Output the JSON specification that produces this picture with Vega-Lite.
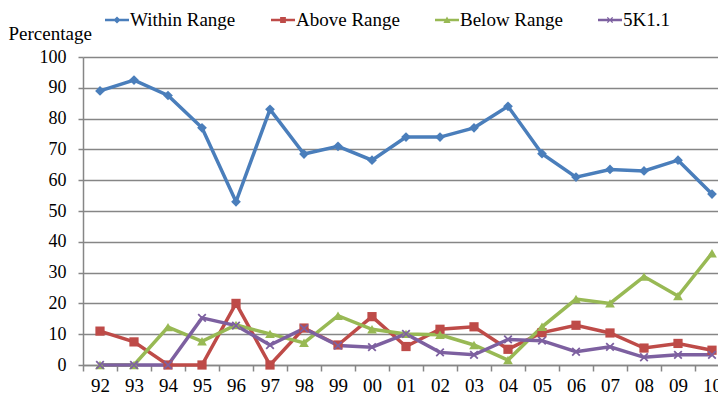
{
  "$schema": "https://vega.github.io/schema/vega-lite/v6.json",
  "width": 635,
  "height": 308,
  "autosize": {"type": "none"},
  "padding": {"left": 83, "top": 57, "right": 0, "bottom": 32},
  "background": "white",
  "config": {
    "view": {"stroke": null},
    "font": "Liberation Serif",
    "axis": {"labelFont": "Liberation Serif", "titleFont": "Liberation Serif", "labelColor": "#000", "titleColor": "#000"},
    "legend": {"labelFont": "Liberation Serif", "labelColor": "#000"}
  },
  "data": {
    "values": [
      {"year": "92", "series": "Within Range", "value": 89},
      {"year": "93", "series": "Within Range", "value": 92.5},
      {"year": "94", "series": "Within Range", "value": 87.5},
      {"year": "95", "series": "Within Range", "value": 77},
      {"year": "96", "series": "Within Range", "value": 53},
      {"year": "97", "series": "Within Range", "value": 83},
      {"year": "98", "series": "Within Range", "value": 68.5},
      {"year": "99", "series": "Within Range", "value": 71},
      {"year": "00", "series": "Within Range", "value": 66.5},
      {"year": "01", "series": "Within Range", "value": 74},
      {"year": "02", "series": "Within Range", "value": 74},
      {"year": "03", "series": "Within Range", "value": 77},
      {"year": "04", "series": "Within Range", "value": 84},
      {"year": "05", "series": "Within Range", "value": 68.6},
      {"year": "06", "series": "Within Range", "value": 61},
      {"year": "07", "series": "Within Range", "value": 63.5},
      {"year": "08", "series": "Within Range", "value": 63},
      {"year": "09", "series": "Within Range", "value": 66.5},
      {"year": "10", "series": "Within Range", "value": 55.5},
      {"year": "92", "series": "Above Range", "value": 11},
      {"year": "93", "series": "Above Range", "value": 7.5},
      {"year": "94", "series": "Above Range", "value": 0},
      {"year": "95", "series": "Above Range", "value": 0},
      {"year": "96", "series": "Above Range", "value": 20},
      {"year": "97", "series": "Above Range", "value": 0},
      {"year": "98", "series": "Above Range", "value": 12},
      {"year": "99", "series": "Above Range", "value": 6.5},
      {"year": "00", "series": "Above Range", "value": 15.7},
      {"year": "01", "series": "Above Range", "value": 6},
      {"year": "02", "series": "Above Range", "value": 11.6},
      {"year": "03", "series": "Above Range", "value": 12.4},
      {"year": "04", "series": "Above Range", "value": 5.1},
      {"year": "05", "series": "Above Range", "value": 10.5},
      {"year": "06", "series": "Above Range", "value": 12.9},
      {"year": "07", "series": "Above Range", "value": 10.4},
      {"year": "08", "series": "Above Range", "value": 5.5},
      {"year": "09", "series": "Above Range", "value": 7},
      {"year": "10", "series": "Above Range", "value": 4.8},
      {"year": "92", "series": "Below Range", "value": 0},
      {"year": "93", "series": "Below Range", "value": 0},
      {"year": "94", "series": "Below Range", "value": 12.3},
      {"year": "95", "series": "Below Range", "value": 7.7},
      {"year": "96", "series": "Below Range", "value": 13},
      {"year": "97", "series": "Below Range", "value": 10.1},
      {"year": "98", "series": "Below Range", "value": 7.2},
      {"year": "99", "series": "Below Range", "value": 16},
      {"year": "00", "series": "Below Range", "value": 11.6},
      {"year": "01", "series": "Below Range", "value": 10.1},
      {"year": "02", "series": "Below Range", "value": 9.8},
      {"year": "03", "series": "Below Range", "value": 6.5},
      {"year": "04", "series": "Below Range", "value": 1.6},
      {"year": "05", "series": "Below Range", "value": 12.4},
      {"year": "06", "series": "Below Range", "value": 21.4},
      {"year": "07", "series": "Below Range", "value": 20},
      {"year": "08", "series": "Below Range", "value": 28.7},
      {"year": "09", "series": "Below Range", "value": 22.4},
      {"year": "10", "series": "Below Range", "value": 36.3},
      {"year": "92", "series": "5K1.1", "value": 0},
      {"year": "93", "series": "5K1.1", "value": 0},
      {"year": "94", "series": "5K1.1", "value": 0},
      {"year": "95", "series": "5K1.1", "value": 15.3},
      {"year": "96", "series": "5K1.1", "value": 12.8},
      {"year": "97", "series": "5K1.1", "value": 6.5},
      {"year": "98", "series": "5K1.1", "value": 11.9},
      {"year": "99", "series": "5K1.1", "value": 6.3},
      {"year": "00", "series": "5K1.1", "value": 5.8},
      {"year": "01", "series": "5K1.1", "value": 10.1},
      {"year": "02", "series": "5K1.1", "value": 4.1},
      {"year": "03", "series": "5K1.1", "value": 3.3},
      {"year": "04", "series": "5K1.1", "value": 8.3},
      {"year": "05", "series": "5K1.1", "value": 7.9},
      {"year": "06", "series": "5K1.1", "value": 4.3},
      {"year": "07", "series": "5K1.1", "value": 5.9},
      {"year": "08", "series": "5K1.1", "value": 2.5},
      {"year": "09", "series": "5K1.1", "value": 3.3},
      {"year": "10", "series": "5K1.1", "value": 3.3}
    ]
  },
  "encoding": {
    "x": {
      "field": "year",
      "type": "ordinal",
      "sort": null,
      "bandPosition": 0.5,
      "scale": {"type": "band", "range": [0, 646], "paddingInner": 0, "paddingOuter": 0},
      "axis": {
        "title": null,
        "labelAngle": 0,
        "labelFontSize": 19,
        "labelPadding": 5,
        "tickBand": "extent",
        "tickSize": 6,
        "tickColor": "#868686",
        "tickWidth": 1.5,
        "domainColor": "#868686",
        "domainWidth": 1.5,
        "grid": false
      }
    },
    "y": {
      "field": "value",
      "type": "quantitative",
      "scale": {"domain": [0, 100], "nice": false},
      "axis": {
        "values": [0, 10, 20, 30, 40, 50, 60, 70, 80, 90, 100],
        "title": "Percentage",
        "titleAngle": 0,
        "titleAlign": "left",
        "titleBaseline": "alphabetic",
        "titleX": -75,
        "titleY": -18,
        "titleFontSize": 19,
        "titleFontWeight": "normal",
        "labelFontSize": 18,
        "labelPadding": 12,
        "tickSize": 5,
        "tickColor": "#868686",
        "tickWidth": 1.5,
        "domainColor": "#868686",
        "domainWidth": 1.5,
        "grid": true,
        "gridColor": "#868686",
        "gridWidth": 1.5
      }
    },
    "color": {
      "field": "series",
      "type": "nominal",
      "scale": {
        "domain": ["Within Range", "Above Range", "Below Range", "5K1.1"],
        "range": ["#4A7EBB", "#BE4B48", "#98B954", "#7D60A0"]
      },
      "legend": {
        "title": null,
        "orient": "none",
        "direction": "horizontal",
        "legendX": 22,
        "legendY": -49,
        "padding": 0,
        "labelFontSize": 19,
        "labelOffset": 1,
        "columnPadding": 35,
        "symbolSize": 576,
        "symbolStrokeWidth": 0,
        "encode": {
          "symbols": {
            "update": {
              "shape": {"signal": "datum.value === 'Within Range' ? 'M-1,-0.11H1V0.11H-1Z M0,-0.3L0.3,0L0,0.3L-0.3,0Z' : datum.value === 'Above Range' ? 'M-1,-0.11H1V0.11H-1Z M-0.24,-0.24H0.24V0.24H-0.24Z' : datum.value === 'Below Range' ? 'M-1,-0.11H1V0.11H-1Z M0,-0.3L0.3,0.24H-0.3Z' : 'M-1,-0.11H1V0.11H-1Z M-0.18,-0.26L0.26,0.18L0.18,0.26L-0.26,-0.18Z M-0.26,0.18L0.18,-0.26L0.26,-0.18L-0.18,0.26Z'"},
              "fill": {"scale": "color", "field": "value"},
              "fillOpacity": {"value": 1},
              "strokeWidth": {"value": 0}
            }
          }
        }
      }
    }
  },
  "layer": [
    {
      "mark": {"type": "line", "strokeWidth": 3.5},
      "encoding": {}
    },
    {
      "transform": [{"filter": "datum.series === 'Within Range'"}],
      "mark": {"type": "point", "filled": true, "opacity": 1, "shape": "diamond", "size": 95},
      "encoding": {}
    },
    {
      "transform": [{"filter": "datum.series === 'Above Range'"}],
      "mark": {"type": "point", "filled": true, "opacity": 1, "shape": "square", "size": 85},
      "encoding": {}
    },
    {
      "transform": [{"filter": "datum.series === 'Below Range'"}],
      "mark": {"type": "point", "filled": true, "opacity": 1, "shape": "triangle-up", "size": 95},
      "encoding": {}
    },
    {
      "transform": [{"filter": "datum.series === '5K1.1'"}],
      "mark": {"type": "point", "filled": true, "opacity": 1, "size": 80, "shape": "M-0.71,-0.99L0.99,0.71L0.71,0.99L-0.99,-0.71Z M-0.99,0.71L0.71,-0.99L0.99,-0.71L-0.71,0.99Z"},
      "encoding": {}
    }
  ]
}
